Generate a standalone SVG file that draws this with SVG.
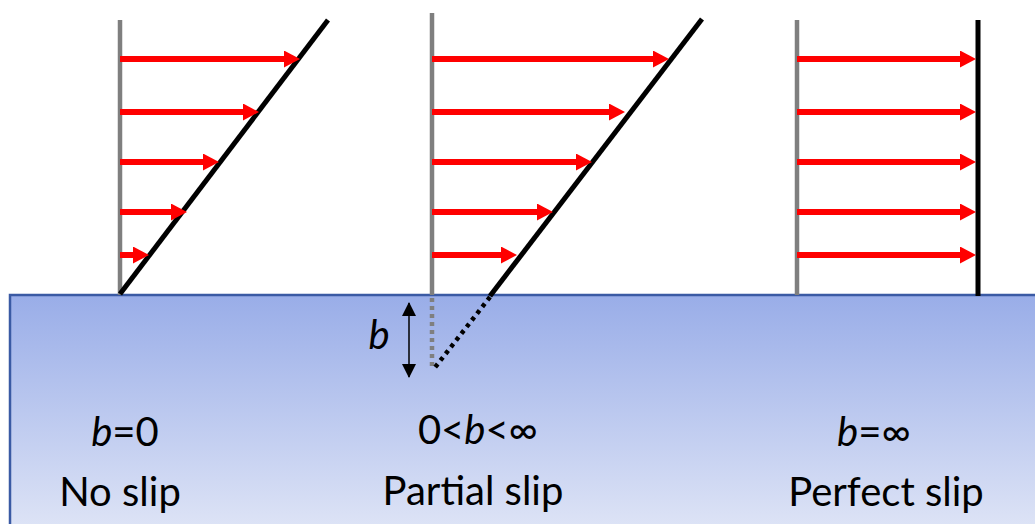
<svg xmlns="http://www.w3.org/2000/svg" width="1035" height="524" viewBox="0 0 1035 524">
<defs>
<linearGradient id="sub" x1="0" y1="0" x2="0" y2="1">
<stop offset="0" stop-color="#99ADE8"/>
<stop offset="1" stop-color="#DEE4F6"/>
</linearGradient>
<marker id="ah" viewBox="0 0 16 17" refX="6" refY="8.5" markerWidth="16" markerHeight="17" markerUnits="userSpaceOnUse" orient="auto">
<path d="M0,0 L16,8.5 L0,17 z" fill="#FF0000"/>
</marker>
<marker id="bh" viewBox="0 0 14 14" refX="13" refY="7" markerWidth="14" markerHeight="14" markerUnits="userSpaceOnUse" orient="auto-start-reverse">
<path d="M0,0 L14,7 L0,14 z" fill="#000"/>
</marker>
</defs>
<style>
.wall{stroke:#7F7F7F;stroke-width:4.5;fill:none}
.prof{stroke:#000;stroke-width:5;fill:none}
.vel{stroke:#FF0000;stroke-width:6;fill:none;marker-end:url(#ah)}
.t{font-family:Lato,"Open Sans","Liberation Sans",sans-serif;font-size:40px;fill:#000;text-anchor:middle}
.i{font-style:italic}
</style>
<g id="substrate">
<rect x="10" y="295" width="1030" height="235" fill="url(#sub)"/>
<path d="M10,524 L10,295 L1035,295" stroke="#3A5AA4" stroke-width="2.5" fill="none"/>
</g>
<g id="no-slip">
<line class="wall" x1="120" y1="20" x2="120" y2="295"/>
<line class="prof" x1="120" y1="294" x2="328" y2="20"/>
<g class="arrows">
<line class="vel" x1="120" y1="59" x2="290" y2="59"/>
<line class="vel" x1="120" y1="112" x2="249" y2="112"/>
<line class="vel" x1="120" y1="162" x2="209" y2="162"/>
<line class="vel" x1="120" y1="212" x2="177" y2="212"/>
<line class="vel" x1="120" y1="255" x2="139" y2="255"/>
</g>
<text class="t" x="125" y="446"><tspan class="i">b</tspan>=0</text>
<text class="t" x="120" y="506">No slip</text>
</g>
<g id="partial-slip">
<line class="wall" x1="432" y1="13" x2="432" y2="295"/>
<line x1="432" y1="298" x2="432" y2="370" stroke="#7F7F7F" stroke-width="4.5" stroke-dasharray="4,4"/>
<line class="prof" x1="490" y1="296" x2="702" y2="19"/>
<line x1="490" y1="297" x2="433" y2="370" stroke="#000" stroke-width="4.5" stroke-dasharray="4,4.5"/>
<g class="arrows">
<line class="vel" x1="432" y1="59" x2="659" y2="59"/>
<line class="vel" x1="432" y1="112" x2="615" y2="112"/>
<line class="vel" x1="432" y1="162" x2="582" y2="162"/>
<line class="vel" x1="432" y1="212" x2="543" y2="212"/>
<line class="vel" x1="432" y1="255" x2="507" y2="255"/>
</g>
<line x1="409" y1="303" x2="409" y2="377" stroke="#000" stroke-width="1.5" marker-start="url(#bh)" marker-end="url(#bh)"/>
<text class="t i" x="379" y="349">b</text>
<text class="t" x="478" y="444">0&lt;<tspan class="i">b</tspan>&lt;∞</text>
<text class="t" x="473" y="505">Partial slip</text>
</g>
<g id="perfect-slip">
<line class="wall" x1="797" y1="20" x2="797" y2="295"/>
<line class="prof" x1="978" y1="20" x2="978" y2="296"/>
<g class="arrows">
<line class="vel" x1="797" y1="59" x2="966" y2="59"/>
<line class="vel" x1="797" y1="112" x2="966" y2="112"/>
<line class="vel" x1="797" y1="162" x2="966" y2="162"/>
<line class="vel" x1="797" y1="212" x2="966" y2="212"/>
<line class="vel" x1="797" y1="255" x2="966" y2="255"/>
</g>
<text class="t" x="874" y="446"><tspan class="i">b</tspan>=∞</text>
<text class="t" x="886" y="506">Perfect slip</text>
</g>
</svg>
